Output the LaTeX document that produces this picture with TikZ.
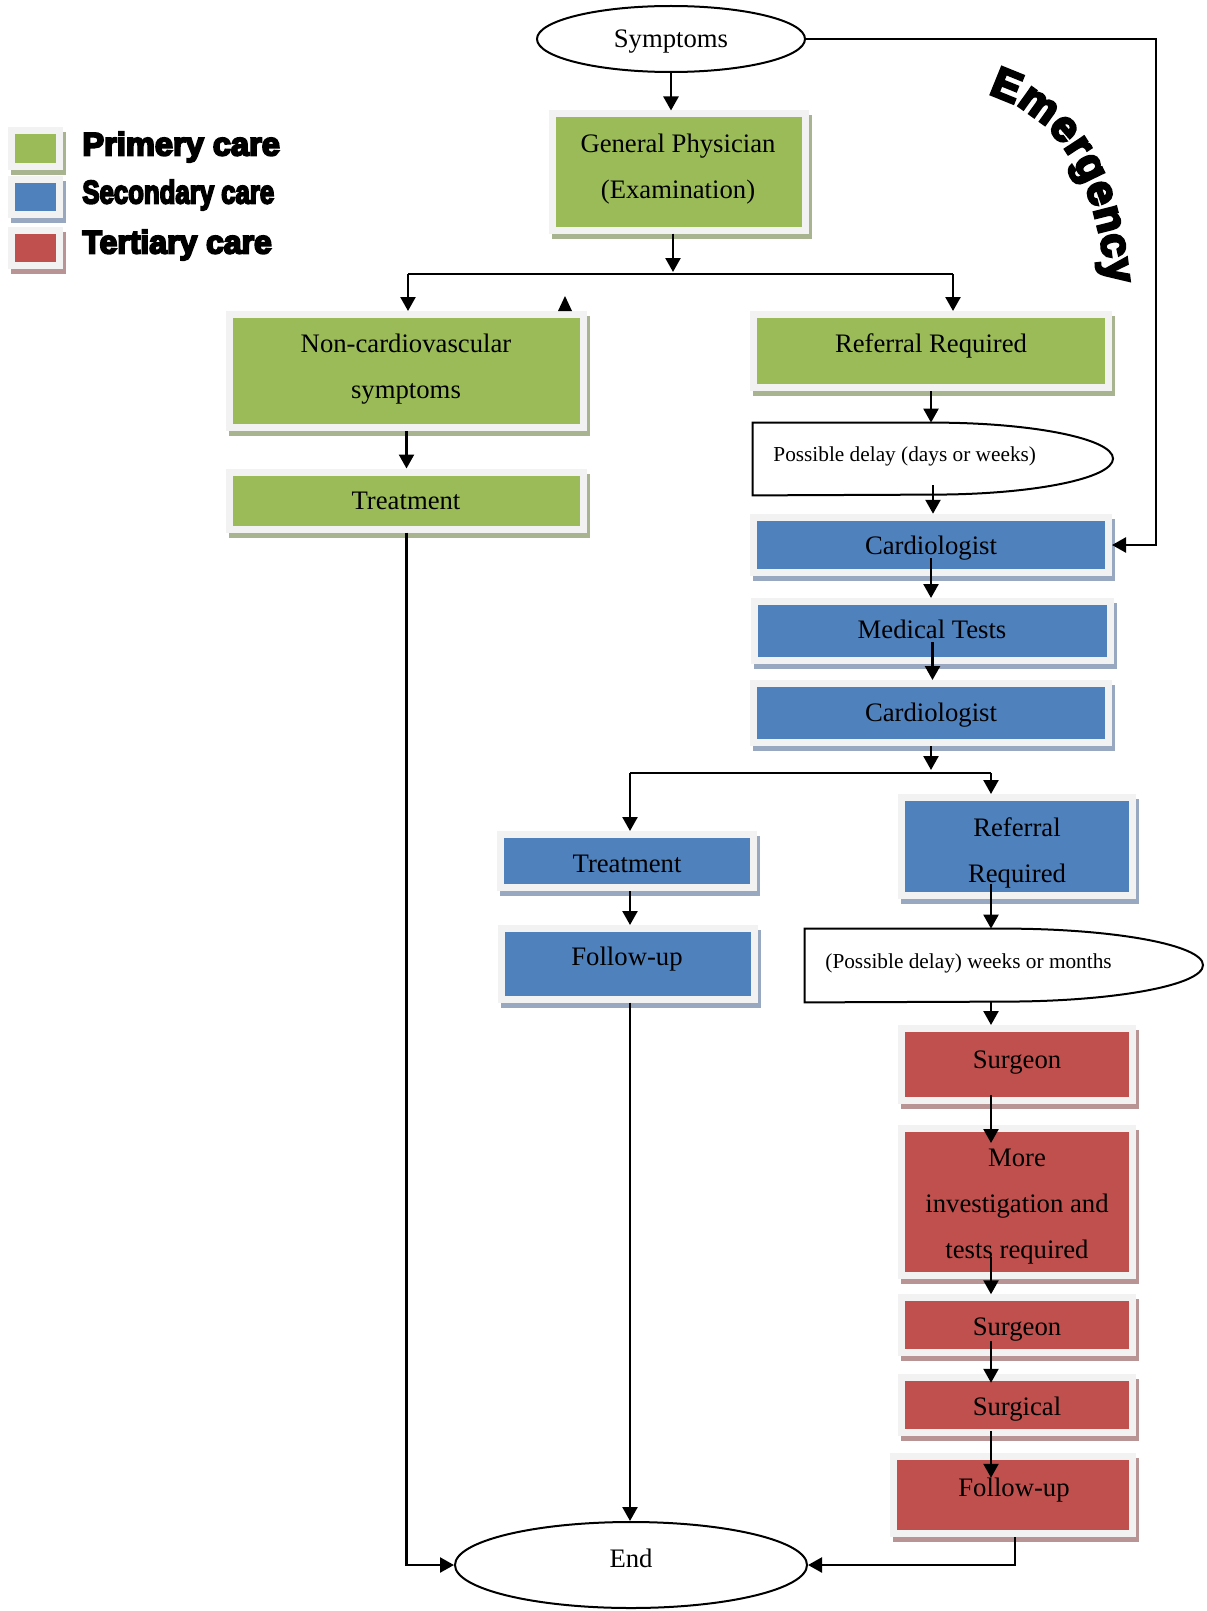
\documentclass[tikz,border=0pt]{standalone}
\usepackage{fontspec}
\usepackage{graphicx}
\setmainfont{Liberation Serif}
\newfontfamily\legfont{Liberation Sans}[BoldFeatures={FakeBold=6}]
\usetikzlibrary{arrows.meta,decorations.text,shapes.geometric,calc}
\definecolor{gfill}{HTML}{9BBB59}
\definecolor{bfill}{HTML}{4F81BD}
\definecolor{rfill}{HTML}{C0504D}
\definecolor{frame}{HTML}{F2F2F2}
\definecolor{gshad}{HTML}{A8B48F}
\definecolor{bshad}{HTML}{98A8C0}
\definecolor{rshad}{HTML}{B89494}
\tikzset{
  cbox/.style 2 args={rectangle, inner sep=0pt, draw=frame, line width=3.5pt, fill=#1,
    preaction={draw=#2, fill=#2, line width=3.5pt, transform canvas={shift={(1.5pt,-2.5pt)}}}},
  gbox/.style={cbox={gfill}{gshad}},
  bbox/.style={cbox={bfill}{bshad}},
  rbox/.style={cbox={rfill}{rshad}},
  txt/.style={inner sep=0pt, align=center, font=\fontsize{13.35}{23}\selectfont},
  small/.style={inner sep=0pt, anchor=west, font=\fontsize{10.65}{13}\selectfont},
  oval/.style={ellipse, draw, line width=1pt, inner sep=0pt},
  legtxt/.style={inner sep=0pt, anchor=west, font=\fontsize{16.3}{18}\selectfont\legfont\bfseries},
  arr/.style={draw, line width=1.2pt, -{Triangle[length=7pt,width=7.5pt]}},
  ln/.style={draw, line width=1.2pt},
}
\begin{document}
\begin{tikzpicture}[x=0.5pt,y=-0.5pt]
\useasboundingbox (0,0) rectangle (1206,1611);

% legend
\node[gbox, minimum width=24pt, minimum height=17.75pt] (lg1) at (35,148.75) {};
\node[bbox, minimum width=24pt, minimum height=17.25pt] (lg2) at (35,196.75) {};
\node[rbox, minimum width=24pt, minimum height=17.5pt] (lg3) at (35,248) {};
\node[legtxt] (lt1) at (82,147) {\scalebox{1.0}[1]{Primery care}};
\node[legtxt] (lt2) at (82,195) {\scalebox{0.79}[1]{Secondary care}};
\node[legtxt] (lt3) at (82,245) {\scalebox{0.98}[1]{Tertiary care}};

% emergency label
\path[decorate, decoration={text along path, text align={fit to path},
  text={|\fontsize{21.5}{22}\selectfont\legfont\bfseries|Emergency}}]
  (988,94) .. controls (1073,120) and (1098,200) .. (1107,284);

% ovals
\node[oval, minimum width=134pt, minimum height=33pt] (sym) at (671,39) {};
\node[txt] (symt) at (671,42) {Symptoms};
\node[oval, minimum width=176pt, minimum height=43pt] (end) at (631,1565) {};
\node[txt] (endt) at (631,1558) {End};

% green boxes
\node[gbox, minimum width=126.5pt, minimum height=58pt] (gp) at (679,172) {};
\node[txt] (gpt) at (678,169) {General Physician\\(Examination)};
\node[gbox, minimum width=177pt, minimum height=56.5pt] (nc) at (406.5,371) {};
\node[txt] (nct) at (406,369) {Non-cardiovascular\\symptoms};
\node[gbox, minimum width=177pt, minimum height=28.5pt] (t1) at (406.5,500.5) {};
\node[txt] (t1t) at (406,501) {Treatment};
\node[gbox, minimum width=177.5pt, minimum height=36.5pt] (r1) at (931,351) {};
\node[txt] (r1t) at (931,346) {Referral Required};

% delay 1
\node[inner sep=0pt, minimum width=180pt, minimum height=36pt] (d1) at (933,459) {};
\draw[line width=1pt] (d1.south west) -- (d1.north west) -- (d1.north)
  arc[start angle=90, end angle=-90, x radius=90pt, y radius=18pt] -- cycle;
\node[small] (d1t) at (773,456) {Possible delay (days or weeks)};

% blue boxes
\node[bbox, minimum width=177.5pt, minimum height=27.75pt] (c1) at (931,545) {};
\node[txt] (c1t) at (931,548) {Cardiologist};
\node[bbox, minimum width=178pt, minimum height=29.5pt] (mt) at (932.5,631) {};
\node[txt] (mtt) at (932,629) {Medical Tests};
\node[bbox, minimum width=177.5pt, minimum height=29.5pt] (c2) at (931,713) {};
\node[txt] (c2t) at (931,715) {Cardiologist};
\node[bbox, minimum width=126.5pt, minimum height=26.5pt] (t2) at (627,861) {};
\node[txt] (t2t) at (627,864) {Treatment};
\node[bbox, minimum width=126.5pt, minimum height=35.25pt] (f1) at (628,963.75) {};
\node[txt] (f1t) at (627,959) {Follow-up};
\node[bbox, minimum width=115.5pt, minimum height=49pt] (r2) at (1017,846.5) {};
\node[txt] (r2t) at (1017,853) {Referral\\Required};

% delay 2
\node[inner sep=0pt, minimum width=199pt, minimum height=36.5pt] (d2) at (1004,965.5) {};
\draw[line width=1pt] (d2.south west) -- (d2.north west) -- (d2.north)
  arc[start angle=90, end angle=-90, x radius=99.5pt, y radius=18.25pt] -- cycle;
\node[small] (d2t) at (825,963) {(Possible delay) weeks or months};

% red boxes
\node[rbox, minimum width=115.5pt, minimum height=36pt] (sg1) at (1017,1064.5) {};
\node[txt] (sg1t) at (1017,1063) {Surgeon};
\node[rbox, minimum width=115.5pt, minimum height=73.25pt] (mo) at (1017,1201.75) {};
\node[txt] (mot) at (1017,1207) {More\\investigation and\\tests required};
\node[rbox, minimum width=115.5pt, minimum height=27.25pt] (sg2) at (1017,1325) {};
\node[txt] (sg2t) at (1017,1330) {Surgeon};
\node[rbox, minimum width=115.5pt, minimum height=27.75pt] (su) at (1017,1405) {};
\node[txt] (sut) at (1017,1409) {Surgical};
\node[rbox, minimum width=119.25pt, minimum height=38.75pt] (f2) at (1013,1495) {};
\node[txt] (f2t) at (1014,1490) {Follow-up};

% connectors
\coordinate (s1) at (673,272);
\coordinate (s1l) at (408,274);
\coordinate (s1r) at (953,274);
\coordinate (em) at (1156,39);
\coordinate (s2) at (931,770);
\coordinate (s2l) at (630,773);
\coordinate (s2r) at (991,773);

\draw[arr] (sym.south) -- (sym.south |- gp.north);
\draw[arr] (s1 |- gp.south) -- (s1);
\draw[ln] (s1l) -- (s1r);
\draw[arr] (s1l) -- (s1l |- nc.north);
\draw[arr] (s1r) -- (s1r |- r1.north);
\fill (558,311) -- (572,311) -- (565,296) -- cycle;
\draw[arr] (nc.south) -- (t1.north);
\draw[arr] (t1.south) |- (end.west);
\draw[arr] (r1.south) -- (r1.south |- d1.north);
\draw[arr] ([yshift=5pt]d1.south) -- (d1.south |- c1.north);
\draw[arr] (sym.east) -- (em) |- (c1.east);
\draw[arr] ([yshift=9pt]c1.south) -- (c1.south |- mt.north);
\draw[arr] ([yshift=11pt]mt.south) -- (mt.south |- c2.north);
\draw[arr] (c2.south) -- (s2);
\draw[ln] (s2l) -- (s2r);
\draw[arr] (s2l) -- (s2l |- t2.north);
\draw[arr] (s2r) -- (s2r |- r2.north);
\draw[arr] (s2l |- t2.south) -- (s2l |- f1.north);
\draw[arr] (s2l |- f1.south) -- (s2l |- end.north);
\draw[arr] ([yshift=7.5pt]s2r |- r2.south) -- (s2r |- d2.north);
\draw[arr] (s2r |- d2.south) -- (s2r |- sg1.north);
\draw[arr] ([yshift=4.5pt]s2r |- sg1.south) -- ([yshift=-9pt]s2r |- mo.north);
\draw[arr] ([yshift=11pt]s2r |- mo.south) -- (s2r |- sg2.north);
\draw[arr] ([yshift=7.5pt]s2r |- sg2.south) -- ([yshift=-4.5pt]s2r |- su.north);
\draw[arr] ([yshift=2.5pt]s2r |- su.south) -- ([yshift=-12.5pt]s2r |- f2.north);
\draw[arr] ([xshift=1pt]f2.south) |- (end.east);
\end{tikzpicture}
\end{document}
